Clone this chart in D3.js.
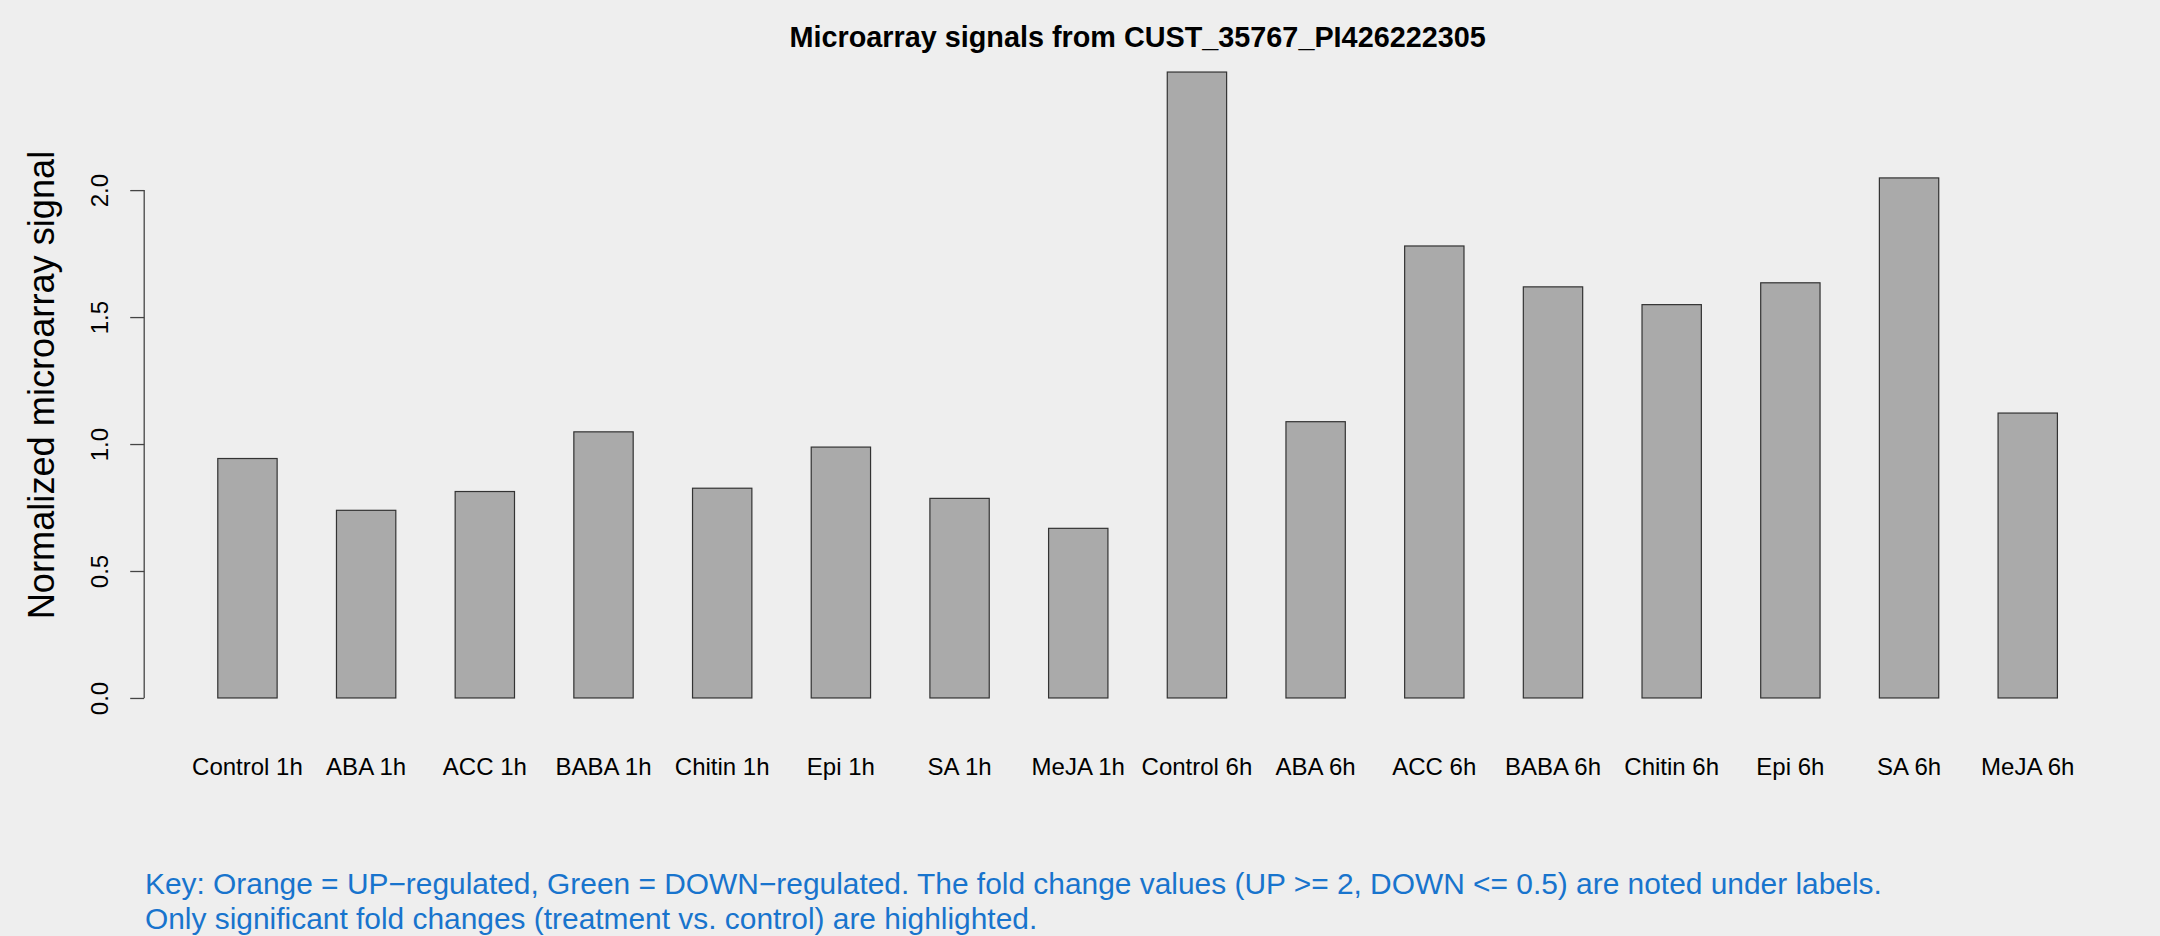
<!DOCTYPE html>
<html>
<head>
<meta charset="utf-8">
<script src="https://cdn.jsdelivr.net/npm/d3@7"></script>
<style>
  html, body { margin: 0; padding: 0; background: #EEEEEE; }
  svg { display: block; }
  text { font-family: "Liberation Sans", Arial, Helvetica, sans-serif; }
</style>
</head>
<body>
<script>
const categories = ["Control 1h", "ABA 1h", "ACC 1h", "BABA 1h", "Chitin 1h", "Epi 1h", "SA 1h", "MeJA 1h",
                    "Control 6h", "ABA 6h", "ACC 6h", "BABA 6h", "Chitin 6h", "Epi 6h", "SA 6h", "MeJA 6h"];
const signals = [0.943, 0.739, 0.813, 1.048, 0.826, 0.988, 0.786, 0.668,
                 2.465, 1.088, 1.780, 1.619, 1.549, 1.635, 2.048, 1.122];
const yTicks = [0, 0.5, 1.0, 1.5, 2.0];
const titleText = "Microarray signals from CUST_35767_PI426222305";
const yLabel = "Normalized microarray signal";
const keyLines = [
  "Key: Orange = UP\u2212regulated, Green = DOWN\u2212regulated. The fold change values (UP >= 2, DOWN <= 0.5) are noted under labels.",
  "Only significant fold changes (treatment vs. control) are highlighted."
];

const W = 2160, H = 936;
const plotLeft = 144.2, plotRight = 2131, plotTop = 47, plotBottom = 723;

const svg = d3.select("body").append("svg").attr("width", W).attr("height", H);
svg.append("rect").attr("width", W).attr("height", H).attr("fill", "#EEEEEE");

const x = d3.scaleBand().domain(categories).range([plotLeft, plotRight])
  .paddingInner(0.5).paddingOuter(0.62);

const maxV = d3.max(signals);
const y = d3.scaleLinear().domain([-0.04 * maxV, maxV * 1.04]).range([plotBottom, plotTop]);

// bars
svg.append("g").selectAll("rect").data(signals).join("rect")
  .attr("x", (d, i) => x(categories[i]))
  .attr("width", x.bandwidth())
  .attr("y", d => y(d))
  .attr("height", d => y(0) - y(d))
  .attr("fill", "#AAAAAA")
  .attr("stroke", "#333333")
  .attr("stroke-width", 1.2);

// y axis
const axisG = svg.append("g").attr("transform", `translate(${plotLeft},0)`)
  .call(d3.axisLeft(y).tickValues(yTicks).tickFormat(d3.format(".1f")).tickSize(14).tickSizeOuter(0));
axisG.select(".domain").remove();
axisG.selectAll(".tick line").attr("stroke", "#444").attr("stroke-width", 1.3);
axisG.selectAll(".tick text")
  .attr("transform", "rotate(-90)")
  .attr("x", 0).attr("y", -36).attr("dy", 0)
  .attr("text-anchor", "middle")
  .attr("fill", "#000")
  .style("font-size", "24px")
  .style("font-family", '"Liberation Sans", Arial, sans-serif');
axisG.append("line")
  .attr("x1", 0).attr("x2", 0)
  .attr("y1", y(yTicks[0])).attr("y2", y(yTicks[yTicks.length - 1]))
  .attr("stroke", "#444").attr("stroke-width", 1.3);

// category labels
svg.append("g").selectAll("text").data(categories).join("text")
  .attr("x", d => x(d) + x.bandwidth() / 2)
  .attr("y", 775)
  .attr("text-anchor", "middle")
  .attr("font-size", 24)
  .attr("fill", "#000")
  .text(d => d);

// title
svg.append("text")
  .attr("x", (plotLeft + plotRight) / 2)
  .attr("y", 47)
  .attr("text-anchor", "middle")
  .attr("font-size", 28.8)
  .attr("font-weight", "bold")
  .attr("fill", "#000")
  .text(titleText);

// y label
svg.append("text")
  .attr("transform", `translate(54,${(plotTop + plotBottom) / 2}) rotate(-90)`)
  .attr("text-anchor", "middle")
  .attr("font-size", 36.2)
  .attr("fill", "#000")
  .text(yLabel);

// key text
svg.append("g").selectAll("text").data(keyLines).join("text")
  .attr("x", 145)
  .attr("y", (d, i) => 894 + i * 34.6)
  .attr("font-size", 29.9)
  .attr("fill", "#1874CD")
  .text(d => d);
</script>
</body>
</html>
